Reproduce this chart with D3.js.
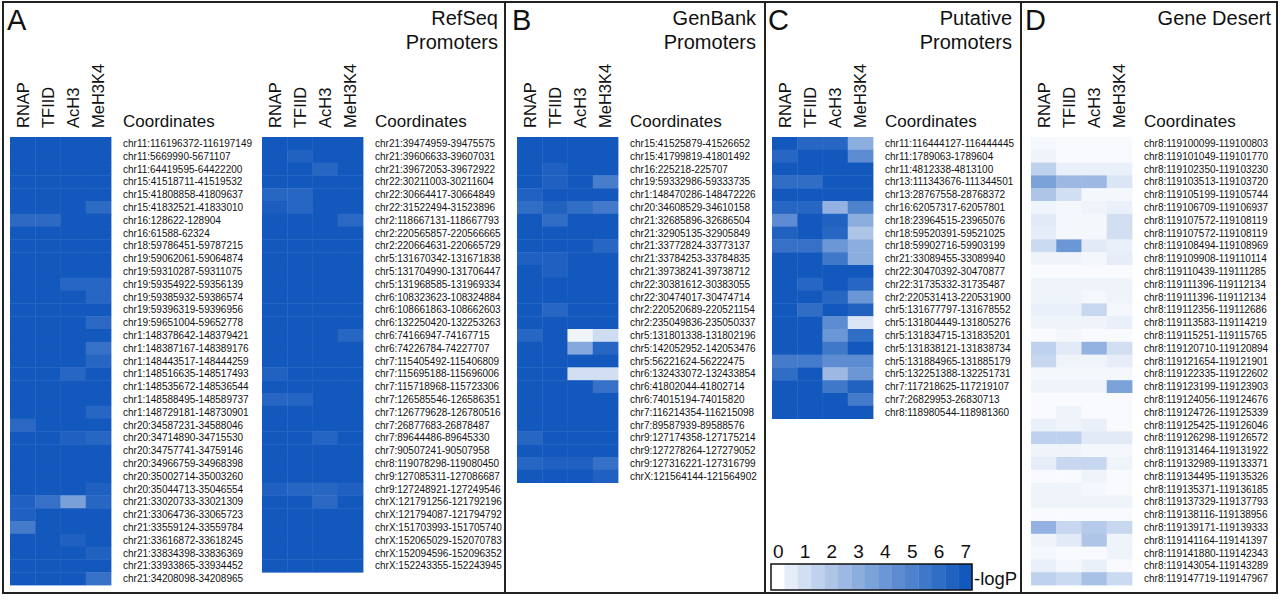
<!DOCTYPE html>
<html>
<head>
<meta charset="utf-8">
<script src="https://cdn.jsdelivr.net/npm/d3@7"></script>
<style>
  body { margin: 0; background: #fff; }
  svg { font-family: "Liberation Sans", Arial, sans-serif; }
</style>
</head>
<body>
<script>
const marks = ["RNAP", "TFIID", "AcH3", "MeH3K4"];

// A: RefSeq promoters, first column of rows
const refseqCoords1 = [
  "chr11:116196372-116197149", "chr11:5669990-5671107", "chr11:64419595-64422200",
  "chr15:41518711-41519532", "chr15:41808858-41809637", "chr15:41832521-41833010",
  "chr16:128622-128904", "chr16:61588-62324", "chr18:59786451-59787215",
  "chr19:59062061-59064874", "chr19:59310287-59311075", "chr19:59354922-59356139",
  "chr19:59385932-59386574", "chr19:59396319-59396956", "chr19:59651004-59652778",
  "chr1:148378642-148379421", "chr1:148387167-148389176", "chr1:148443517-148444259",
  "chr1:148516635-148517493", "chr1:148535672-148536544", "chr1:148588495-148589737",
  "chr1:148729181-148730901", "chr20:34587231-34588046", "chr20:34714890-34715530",
  "chr20:34757741-34759146", "chr20:34966759-34968398", "chr20:35002714-35003260",
  "chr20:35044713-35046554", "chr21:33020733-33021309", "chr21:33064736-33065723",
  "chr21:33559124-33559784", "chr21:33616872-33618245", "chr21:33834398-33836369",
  "chr21:33933865-33934452", "chr21:34208098-34208965"
];
const refseqValues1 = [
  [7,7,7,7],[7,7,7,7],[7,7,7,7],[7,7,7,7],[7,7,7,7],[7,7,7,6.1],
  [6.1,6.1,7,7],[7,7,7,7],[7,7,7,7],[7,7,7,7],[7,7,7,7],[7,7,6.3,6.3],
  [7,7,7,6.3],[7,7,7,7],[7,7,7,6.2],[7,7,7,7],[7,7,7,5.8],[7,7,7,6.3],
  [7,7,6.3,7],[7,7,7,7],[7,7,7,7],[7,7,7,6.3],[6.2,7,7,7],[7,7,6.6,6.3],
  [7,7,7,7],[7,7,7,7],[7,7,7,7],[7,7,7,6.6],[6.6,5.8,3.6,6.3],[6.6,7,7,7],
  [5.3,7,7,7],[7,7,6.6,7],[7,7,7,6.5],[7,7,7,7],[7,7,7,5.8]
];

// A: RefSeq promoters, second column of rows
const refseqCoords2 = [
  "chr21:39474959-39475575", "chr21:39606633-39607031", "chr21:39672053-39672922",
  "chr22:30211003-30211604", "chr22:30664417-30664849", "chr22:31522494-31523896",
  "chr2:118667131-118667793", "chr2:220565857-220566665", "chr2:220664631-220665729",
  "chr5:131670342-131671838", "chr5:131704990-131706447", "chr5:131968585-131969334",
  "chr6:108323623-108324884", "chr6:108661863-108662603", "chr6:132250420-132253263",
  "chr6:74166947-74167715", "chr6:74226784-74227707", "chr7:115405492-115406809",
  "chr7:115695188-115696006", "chr7:115718968-115723306", "chr7:126585546-126586351",
  "chr7:126779628-126780516", "chr7:26877683-26878487", "chr7:89644486-89645330",
  "chr7:90507241-90507958", "chr8:119078298-119080450", "chr9:127085311-127086687",
  "chr9:127248921-127249546", "chrX:121791256-121792196", "chrX:121794087-121794792",
  "chrX:151703993-151705740", "chrX:152065029-152070783", "chrX:152094596-152096352",
  "chrX:152243355-152243945"
];
const refseqValues2 = [
  [7,7,7,7],[7,6.5,7,7],[7,7,6.3,7],[7,7,7,7],[6.3,6.3,7,7],[6.7,6.3,7,7],
  [7,7,7,6.2],[7,7,7,7],[7,7,7,7],[7,7,7,7],[7,7,7,7],[7,7,7,7],
  [7,7,7,7],[7,7,7,7],[7,7,7,7],[7,7,7,6.3],[7,7,7,7],[7,7,7,7],
  [6.5,7,7,7],[7,7,7,7],[6.3,6.4,7,7],[7,7,7,7],[7,7,7,7],[7,7,6.4,7],
  [7,7,7,7],[7,7,7,7],[7,7,7,7],[6.6,6.3,6.3,6.6],[7,7,6.2,7],[7,7,7,7],
  [7,7,7,7],[7,7,7,7],[7,7,7,7],[7,7,7,7]
];

// B: GenBank promoters
const genbankCoords = [
  "chr15:41525879-41526652", "chr15:41799819-41801492", "chr16:225218-225707",
  "chr19:59332986-59333735", "chr1:148470286-148472226", "chr20:34608529-34610158",
  "chr21:32685896-32686504", "chr21:32905135-32905849", "chr21:33772824-33773137",
  "chr21:33784253-33784835", "chr21:39738241-39738712", "chr22:30381612-30383055",
  "chr22:30474017-30474714", "chr2:220520689-220521154", "chr2:235049836-235050337",
  "chr5:131801338-131802196", "chr5:142052952-142053476", "chr5:56221624-56222475",
  "chr6:132433072-132433854", "chr6:41802044-41802714", "chr6:74015194-74015820",
  "chr7:116214354-116215098", "chr7:89587939-89588576", "chr9:127174358-127175214",
  "chr9:127278264-127279052", "chr9:127316221-127316799", "chrX:121564144-121564902"
];
const genbankValues = [
  [7,7,7,7],[7,7,7,7],[7,6.6,7,7],[7,6.6,7,5.2],[6.5,7,7,7],[6,6.5,6,5.4],
  [7,6,7,7],[7,7,7,7],[7,7,7,6.3],[6.6,6.6,7,7],[7,6.6,7,7],[7,7,7,7],
  [7,7,7,7],[7,6.3,7,7],[7,7,7,7],[6.3,7,0.3,1.1],[7,7,3.2,6.3],[7,7,7,7],
  [7,7,1,1],[7,7,7,5.8],[7,7,7,7],[7,7,7,7],[7,7,7,7],[6.3,7,7,7],
  [7,7,7,7],[6.3,6.6,6.6,5.8],[7,7,7,6.6]
];

// C: putative promoters
const putativeCoords = [
  "chr11:116444127-116444445", "chr11:1789063-1789604", "chr11:4812338-4813100",
  "chr13:111343676-111344501", "chr13:28767558-28768372", "chr16:62057317-62057801",
  "chr18:23964515-23965076", "chr18:59520391-59521025", "chr18:59902716-59903199",
  "chr21:33089455-33089940", "chr22:30470392-30470877", "chr22:31735332-31735487",
  "chr2:220531413-220531900", "chr5:131677797-131678552", "chr5:131804449-131805276",
  "chr5:131834715-131835201", "chr5:131838121-131838734", "chr5:131884965-131885179",
  "chr5:132251388-132251731", "chr7:117218625-117219107", "chr7:26829953-26830713",
  "chr8:118980544-118981360"
];
const putativeValues = [
  [7,6.3,6.3,3],[6.3,7,7,4.5],[7,7,7,7],[6,6,7,7],[7,7,7,7],[6.3,6.3,2.8,5],
  [4.5,7,6.5,3],[6.5,7,6.3,2],[5.8,5.8,4,3],[7,7,5.5,3],[7,7,7,7],[7,6.3,7,6.3],
  [7,7,6.3,4],[7,6,7,6.5],[7,7,4.5,0.8],[7,7,4,6],[7,7,5.5,7],[5.3,5.3,4.5,4.5],
  [6,7,2.5,4],[7,7,5.5,6.5],[7,7,7,5.3],[7,7,7,7]
];

// D: gene desert
const desertCoords = [
  "chr8:119100099-119100803", "chr8:119101049-119101770", "chr8:119102350-119103230",
  "chr8:119103513-119103720", "chr8:119105199-119105744", "chr8:119106709-119106937",
  "chr8:119107572-119108119", "chr8:119107572-119108119", "chr8:119108494-119108969",
  "chr8:119109908-119110114", "chr8:119110439-119111285", "chr8:119111396-119112134",
  "chr8:119111396-119112134", "chr8:119112356-119112686", "chr8:119113583-119114219",
  "chr8:119115251-119115765", "chr8:119120710-119120894", "chr8:119121654-119121901",
  "chr8:119122335-119122602", "chr8:119123199-119123903", "chr8:119124056-119124676",
  "chr8:119124726-119125339", "chr8:119125425-119126046", "chr8:119126298-119126572",
  "chr8:119131464-119131922", "chr8:119132989-119133371", "chr8:119134495-119135326",
  "chr8:119135371-119136185", "chr8:119137329-119137793", "chr8:119138116-119138956",
  "chr8:119139171-119139333", "chr8:119141164-119141397", "chr8:119141880-119142343",
  "chr8:119143054-119143289", "chr8:119147719-119147967"
];
const desertValues = [
  [0.2,0.1,0.1,0.1],[0.3,0.1,0.1,0.1],[1.5,0.4,0.4,0.4],[3.5,2.5,2.5,0.8],[2,1,0.2,0.2],
  [0.3,0.2,0.3,0.4],[0.6,0.2,0.2,1],[0.5,0.2,0.2,1],[1.2,4,0.6,0.4],[0.3,0.3,0.2,0.5],
  [0.1,0.1,0.1,0.1],[0.3,0.3,0.3,0.3],[0.3,0.3,0.2,0.3],[0.4,0.4,1.3,0.2],[0.3,0.3,0.3,0.4],
  [0.1,0.2,0.1,0.1],[1.5,0.6,2.8,1],[1.3,0.3,0.3,0.5],[0.2,0.2,0.2,0.2],[0.3,0.3,0.3,3.5],
  [0.1,0.1,0.1,0.1],[0.1,0.3,0.1,0.1],[0.4,0.3,0.4,0.1],[1.5,1.5,0.6,0.6],[0.3,0.3,0.2,0.2],
  [0.5,1.3,1.3,0.3],[0.1,0.1,0.3,0.1],[0.3,0.3,0.2,0.1],[0.3,0.3,0.3,0.3],[0.1,0.1,0.1,0.1],
  [2.8,1.3,1.8,1.3],[0.3,0.6,2,0.3],[0.2,0.1,0.1,0.3],[0.4,0.2,0.4,0.1],[1.5,1.2,2.2,1.2]
];

const legendSteps = [0,0.5,1,1.5,2,2.5,3,3.5,4,4.5,5,5.5,6,6.5,7];
const legendTicks = [0,1,2,3,4,5,6,7];

const width = 1280;
const height = 600;
const rowH = 12.8;
const gridTop = 137;

const svg = d3.select("body")
  .append("svg")
  .attr("width", width)
  .attr("height", height);

const color = d3.scalePow()
  .exponent(0.85)
  .domain([0, 7])
  .range(["#ffffff", "#1358bd"])
  .clamp(true);

// frame and panel dividers
svg.append("rect")
  .attr("x", 3).attr("y", 2)
  .attr("width", 1274).attr("height", 591)
  .attr("fill", "none")
  .attr("stroke", "#222")
  .attr("stroke-width", 2);

[505, 765, 1021].forEach(function(x) {
  svg.append("line")
    .attr("x1", x).attr("x2", x)
    .attr("y1", 2).attr("y2", 593)
    .attr("stroke", "#222")
    .attr("stroke-width", 2);
});

// panel letters and titles
const letters = [["A", 7], ["B", 512], ["C", 768], ["D", 1025]];
letters.forEach(function(l) {
  svg.append("text")
    .attr("x", l[1]).attr("y", 30)
    .attr("font-size", 29)
    .attr("fill", "#111")
    .text(l[0]);
});

const titles = [
  [["RefSeq", "Promoters"], 498],
  [["GenBank", "Promoters"], 756],
  [["Putative", "Promoters"], 1012],
  [["Gene Desert"], 1271]
];
titles.forEach(function(t) {
  t[0].forEach(function(line, i) {
    svg.append("text")
      .attr("x", t[1]).attr("y", 25 + i * 24)
      .attr("text-anchor", "end")
      .attr("font-size", 20)
      .attr("fill", "#111")
      .text(line);
  });
});

function drawBlock(x0, coords, values) {
  const xScale = d3.scaleBand()
    .domain(marks)
    .range([x0, x0 + 101]);
  const yScale = d3.scaleBand()
    .domain(d3.range(coords.length))
    .range([gridTop, gridTop + coords.length * rowH]);

  const g = svg.append("g");

  // cells
  values.forEach(function(row, i) {
    g.selectAll(null)
      .data(row)
      .enter()
      .append("rect")
      .attr("x", function(d, j) { return xScale(marks[j]); })
      .attr("y", yScale(i))
      .attr("width", xScale.bandwidth() + 0.4)
      .attr("height", yScale.bandwidth() + 0.4)
      .attr("fill", function(d) { return color(d); });
  });

  // column headers
  g.selectAll(".head")
    .data(marks)
    .enter()
    .append("text")
    .attr("class", "head")
    .attr("transform", function(d) {
      return `translate(${xScale(d) + xScale.bandwidth() / 2 + 6}, 128) rotate(-90)`;
    })
    .attr("font-size", 16.5)
    .attr("fill", "#111")
    .text(function(d) { return d; });

  // coordinate labels
  const lx = x0 + 113;
  g.append("text")
    .attr("x", lx).attr("y", 127)
    .attr("font-size", 17)
    .attr("fill", "#111")
    .text("Coordinates");

  g.selectAll(".coord")
    .data(coords)
    .enter()
    .append("text")
    .attr("class", "coord")
    .attr("x", lx)
    .attr("y", function(d, i) { return yScale(i) + yScale.bandwidth() / 2 + 3.6; })
    .attr("font-size", 10)
    .attr("fill", "#111")
    .text(function(d) { return d; });
}

drawBlock(10, refseqCoords1, refseqValues1);
drawBlock(262, refseqCoords2, refseqValues2);
drawBlock(517, genbankCoords, genbankValues);
drawBlock(772, putativeCoords, putativeValues);
drawBlock(1031, desertCoords, desertValues);

// legend
const legendX = d3.scaleLinear()
  .domain([0, 7])
  .range([777.7, 965.3]);
const step = (legendX(7) - legendX(0)) / 14;
const legend = svg.append("g");

legend.selectAll("rect")
  .data(legendSteps)
  .enter()
  .append("rect")
  .attr("x", function(d) { return legendX(d) - step / 2; })
  .attr("y", 564)
  .attr("width", step + 0.3)
  .attr("height", 26)
  .attr("fill", function(d) { return color(d); });

legend.append("rect")
  .attr("x", 771).attr("y", 564)
  .attr("width", 201).attr("height", 26)
  .attr("fill", "none")
  .attr("stroke", "#111")
  .attr("stroke-width", 1.5);

const legendAxis = d3.axisTop(legendX)
  .tickValues(legendTicks)
  .tickSize(0)
  .tickPadding(4)
  .tickFormat(d3.format("d"));

legend.append("g")
  .attr("transform", "translate(0, 562)")
  .call(legendAxis)
  .call(function(a) { a.select(".domain").remove(); })
  .selectAll("text")
  .attr("font-family", "Liberation Sans, Arial, sans-serif")
  .attr("font-size", 19)
  .attr("fill", "#111");

legend.append("text")
  .attr("x", 974).attr("y", 585)
  .attr("font-size", 18.5)
  .attr("fill", "#111")
  .text("-logP");
</script>
</body>
</html>
